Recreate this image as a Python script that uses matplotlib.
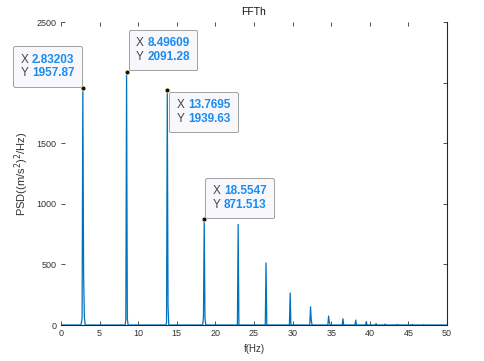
import numpy as np
import matplotlib
matplotlib.use("Agg")
import matplotlib.pyplot as plt
from matplotlib.offsetbox import TextArea, HPacker, VPacker, AnnotationBbox

plt.rcParams['font.family'] = ['Liberation Sans', 'DejaVu Sans']

# spectrum: fs = 100 Hz, N = 1024 -> bin width 0.09765625 Hz
fs = 100.0
nfft = 1024
peak_bins = [27, 28, 29, 30, 31, 86, 87, 88, 140, 141, 142, 189, 190, 191,
             235, 272, 304, 331, 332, 355, 356, 374, 391, 405, 418, 430,
             446, 466, 481]
peak_vals = [15, 60, 1957.87, 420, 70, 45, 2091.28, 55, 20, 1939.63, 150,
             70, 871.513, 55, 830, 512, 264, 151, 40, 74, 20, 52, 41, 29,
             12, 8, 5, 5, 3]
tip_bins = [29, 87, 141, 190]
ytick_vals = [0, 500, 1000, 1500, 2000, 2500]
ytick_labs = ['0', '500', '1000', '1500', '', '2500']   # 2000 sits under a datatip

f = np.arange(nfft // 2 + 1) * fs / nfft
psd = np.zeros_like(f)
psd[peak_bins] = peak_vals

txt = '#333333'
blue_num = '#1a8cf0'

fig = plt.figure(figsize=(4.84, 3.61), dpi=100)
ax = fig.add_axes([0.126, 0.0997, 0.7975, 0.8393])
ax.plot(f, psd, color='#0072bd', lw=0.9)

ax.set_xlim(0, 50)
ax.set_ylim(0, 2500)
ax.set_xticks(np.arange(0, 51, 5))
ax.set_yticks(ytick_vals)
ax.set_yticklabels(ytick_labs)
ax.tick_params(direction='in', length=3, width=0.6, labelsize=6.5,
               colors=txt, top=True, right=True, pad=3)
ax.spines['left'].set_visible(False)
ax.spines['top'].set_visible(False)
ax.spines['right'].set_color('#262626')
ax.spines['bottom'].set_color('#262626')
ax.spines['right'].set_linewidth(0.8)
ax.spines['bottom'].set_linewidth(0.8)

ax.set_title('FFTh', fontsize=7.5, color='#111111', pad=5)
ax.set_xlabel('f(Hz)', fontsize=7, color=txt, labelpad=4)
ax.set_ylabel('PSD((m/s$^2$)$^2$/Hz)', fontsize=8, color=txt, labelpad=4)

# datatip placement (box alignment, offset in points)
tip_align = [(1, 0), (0, 0), (0, 1), (0, 0)]
tip_off = [(-0.8, 0.8), (1.5, 0.8), (1.5, -1.5), (0.8, 0.8)]

for b, al, off in zip(tip_bins, tip_align, tip_off):
    xv = f[b]
    yv = psd[b]
    rows = []
    for lab, val in (('X', xv), ('Y', yv)):
        r = HPacker(children=[
            TextArea(lab, textprops=dict(color='#444444', fontsize=8.5)),
            TextArea('%.6g' % val, textprops=dict(color=blue_num, fontsize=8.5,
                                                 fontweight='bold'))],
            align='baseline', pad=0, sep=2.5)
        rows.append(r)
    box = VPacker(children=rows, align='left', pad=5.3, sep=1.2)
    ab = AnnotationBbox(box, (xv, yv), xybox=off, xycoords='data',
                        boxcoords='offset points', box_alignment=al,
                        frameon=True, zorder=6,
                        bboxprops=dict(facecolor='#f8f8fc', edgecolor='#a0a0a0',
                                       lw=0.7, boxstyle='round,pad=0,rounding_size=0.12'))
    ax.add_artist(ab)
    ax.plot(xv, yv, 'o', ms=3.5, mfc='#111111', mec='#fff8c0', mew=0.5, zorder=7)

fig.savefig('out.png', dpi=100)
